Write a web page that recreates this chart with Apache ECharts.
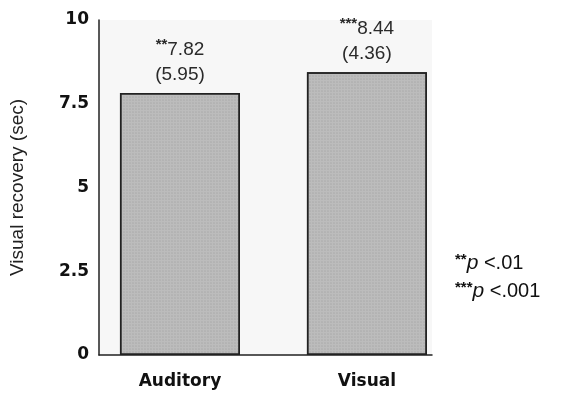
<!DOCTYPE html>
<html><head><meta charset="utf-8">
<script src="https://cdn.jsdelivr.net/npm/echarts@6/dist/echarts.min.js"></script>
<style>html,body{margin:0;padding:0;background:#fff}#c{width:566px;height:396px}</style>
</head><body><div id="c"></div>
<script>
const categories = ['Auditory', 'Visual'];
const means = [7.82, 8.44];
const sds = [5.95, 4.36];
const stars = ['**', '***'];
const yTicks = [0, 2.5, 5, 7.5, 10];
const legendLines = [['**', '<.01'], ['***', '<.001']];

const chart = echarts.init(document.getElementById('c'));
const font = 'Liberation Sans, Arial, sans-serif';
const boldFont = 'DejaVu Sans, Liberation Sans, sans-serif';
chart.setOption({
  animation: false,
  grid: { left: 99, right: 134, top: 20, bottom: 41, show: true, backgroundColor: '#f7f7f7', borderWidth: 0 },
  xAxis: {
    type: 'value', min: -0.433, max: 1.348,
    splitLine: { show: false },
    axisLine: { show: true, onZero: false, lineStyle: { color: '#222', width: 1.5 } },
    axisTick: { show: false },
    axisLabel: {
      customValues: [0, 1], margin: 18,
      formatter: v => categories[Math.round(v)] || '',
      fontFamily: boldFont, fontSize: 17, fontWeight: 'bold', color: '#111'
    }
  },
  yAxis: {
    type: 'value', min: 0, max: 10, interval: 2.5,
    name: 'Visual recovery (sec)', nameLocation: 'middle', nameGap: 72,
    nameTextStyle: { fontFamily: font, fontSize: 19, color: '#222' },
    splitLine: { show: false },
    axisLine: { show: true, onZero: false, lineStyle: { color: '#222', width: 1.5 } },
    axisTick: { show: false },
    axisLabel: {
      margin: 10, fontFamily: boldFont, fontSize: 17, fontWeight: 'bold', color: '#111',
      formatter: v => yTicks.includes(v) ? String(v) : ''
    }
  },
  series: [{
    type: 'bar', barWidth: 120,
    data: means.map((m, i) => [i, m]),
    itemStyle: {
      color: '#bcbcbc', borderColor: '#222', borderWidth: 1.5,
      decal: { symbol: 'circle', symbolSize: 0.6, dashArrayX: [2, 1], dashArrayY: [2, 1], color: 'rgba(90,90,90,0.35)' }
    },
    label: {
      show: true, position: 'top', distance: 6,
      fontFamily: font, fontSize: 19, color: '#2a2a2a', lineHeight: 25, align: 'center',
      formatter: p => '{s|' + stars[p.dataIndex] + '}' + means[p.dataIndex].toFixed(2) + '\n(' + sds[p.dataIndex].toFixed(2) + ')',
      rich: { s: { fontFamily: font, fontSize: 15, fontWeight: 'bold', color: '#2a2a2a', verticalAlign: 'top', lineHeight: 25, padding: [0, 0, 7, 0] } }
    }
  }],
  graphic: legendLines.map((l, i) => ({
    type: 'text', left: 455, top: 252 + i * 28,
    style: {
      text: '{s|' + l[0] + '}{p|p} ' + l[1],
      fontFamily: font, fontSize: 20, fill: '#111',
      rich: {
        s: { fontFamily: font, fontSize: 15, fontWeight: 'bold', fill: '#111', verticalAlign: 'top', padding: [0, 0, 7, 0] },
        p: { fontFamily: font, fontSize: 21, fontStyle: 'italic', fill: '#111' }
      }
    }
  }))
});
</script></body></html>
